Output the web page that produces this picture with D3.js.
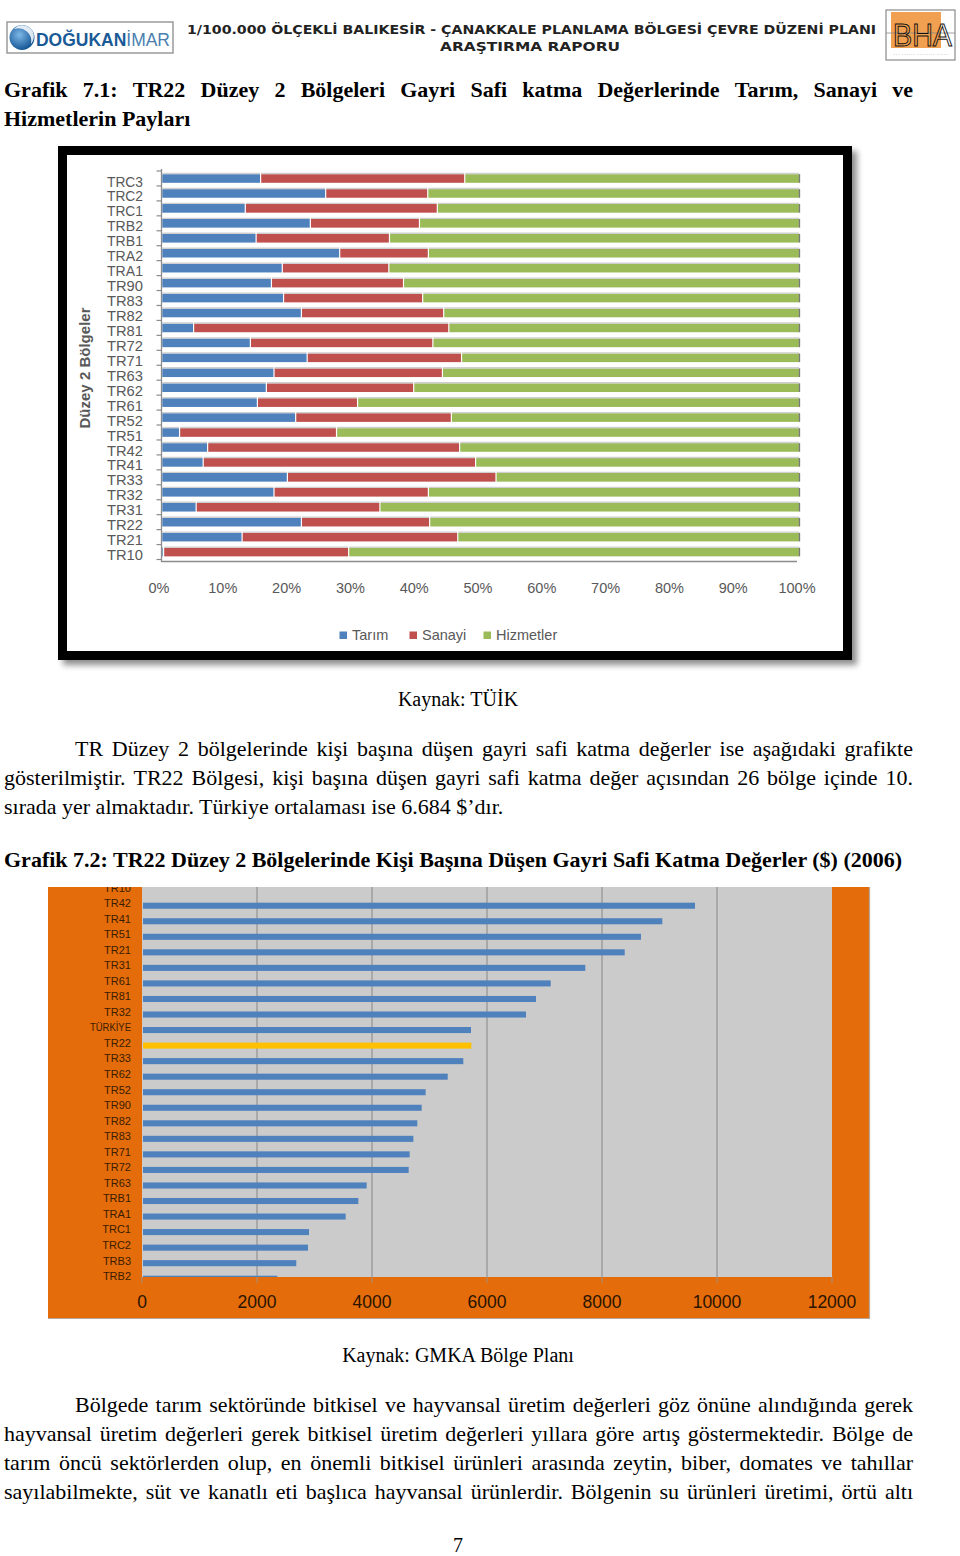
<!DOCTYPE html>
<html><head><meta charset="utf-8">
<script src="https://cdnjs.cloudflare.com/ajax/libs/d3/7.8.5/d3.min.js"></script>
<style>
html,body{margin:0;padding:0;background:#fff;}
svg{display:block;}
</style></head>
<body>
<svg id="page" width="960" height="1556"></svg>
<script>
// ---------- Chart 1 data (shares, %) ----------
const cats1 = ["TRC3","TRC2","TRC1","TRB2","TRB1","TRA2","TRA1","TR90","TR83","TR82","TR81","TR72","TR71","TR63","TR62","TR61","TR52","TR51","TR42","TR41","TR33","TR32","TR31","TR22","TR21","TR10"];
const tarim     = [15.5,25.7,13.1,23.3,14.8,27.9,18.9,17.2,19.1,21.9, 5.0,13.9,22.8,17.6,16.4,15.0,21.0, 2.8, 7.2, 6.5,19.7,17.6, 5.4,21.9,12.6, 0.3];
const sanayi    = [32.0,16.0,30.1,17.1,20.9,13.9,16.7,20.7,21.8,22.3,40.0,28.6,24.2,26.4,23.1,15.7,24.4,24.6,39.5,42.7,32.7,24.2,28.8,20.1,33.8,29.0];
const hizmetler = [52.5,58.3,56.8,59.6,64.3,58.2,64.4,62.1,59.1,55.8,55.0,57.5,53.0,56.0,60.5,69.3,54.6,72.6,53.3,50.8,47.6,58.2,65.8,58.0,53.6,70.7];
const seriesNames1 = ["Tarım","Sanayi","Hizmetler"];
const pctTicks = [0,10,20,30,40,50,60,70,80,90,100];

// ---------- Chart 2 data (GVA per capita, $, 2006) ----------
const cats2 = ["TR10","TR42","TR41","TR51","TR21","TR31","TR61","TR81","TR32","TÜRKİYE","TR22","TR33","TR62","TR52","TR90","TR82","TR83","TR71","TR72","TR63","TRB1","TRA1","TRC1","TRC2","TRB3","TRB2"];
// TR10 bar is cut off (not visible) in the source image
const gva = [null,9617,9049,8678,8395,7710,7108,6852,6678,5722,5727,5588,5317,4933,4864,4788,4719,4655,4638,3907,3762,3542,2904,2887,2683,2353];
const gvaTicks = [0,2000,4000,6000,8000,10000,12000];
const highlight2 = "TR22";

// ---------- Text ----------
const headerLine1 = "1/100.000 ÖLÇEKLİ BALIKESİR - ÇANAKKALE PLANLAMA BÖLGESİ ÇEVRE DÜZENİ PLANI";
const headerLine2 = "ARAŞTIRMA RAPORU";
const title1a = "Grafik 7.1: TR22 Düzey 2 Bölgeleri Gayri Safi katma Değerlerinde Tarım, Sanayi ve";
const title1b = "Hizmetlerin Payları";
const source1 = "Kaynak: TÜİK";
const para1 = ["TR Düzey 2 bölgelerinde kişi başına düşen gayri safi katma değerler ise aşağıdaki grafikte",
  "gösterilmiştir. TR22 Bölgesi, kişi başına düşen gayri safi katma değer açısından 26 bölge içinde 10.",
  "sırada yer almaktadır. Türkiye ortalaması ise 6.684 $’dır."];
const title2 = "Grafik 7.2: TR22 Düzey 2 Bölgelerinde Kişi Başına Düşen Gayri Safi Katma Değerler ($) (2006)";
const source2 = "Kaynak: GMKA Bölge Planı";
const para2 = ["Bölgede tarım sektöründe bitkisel ve hayvansal üretim değerleri göz önüne alındığında gerek",
  "hayvansal üretim değerleri gerek bitkisel üretim değerleri yıllara göre artış göstermektedir. Bölge de",
  "tarım öncü sektörlerden olup, en önemli bitkisel ürünleri arasında zeytin, biber, domates ve tahıllar",
  "sayılabilmekte, süt ve kanatlı eti başlıca hayvansal ürünlerdir. Bölgenin su ürünleri üretimi, örtü altı"];
const pageNo = "7";

const svg = d3.select("#page");
const SERIF = "'Liberation Serif','Times New Roman',serif";
const SANS = "'Liberation Sans',Arial,sans-serif";
const FS = 22;

const defs = svg.append("defs");
const sh = defs.append("filter").attr("id","shadow").attr("x","-5%").attr("y","-5%").attr("width","115%").attr("height","115%");
sh.append("feGaussianBlur").attr("in","SourceAlpha").attr("stdDeviation",3);
sh.append("feOffset").attr("dx",5).attr("dy",5).attr("result","ob");
sh.append("feComponentTransfer").append("feFuncA").attr("type","linear").attr("slope",0.45);
const mg = sh.append("feMerge"); mg.append("feMergeNode"); mg.append("feMergeNode").attr("in","SourceGraphic");
const lg = defs.append("radialGradient").attr("id","logoGrad").attr("cx","40%").attr("cy","40%").attr("r","65%");
lg.append("stop").attr("offset","0%").attr("stop-color","#7fb8e8");
lg.append("stop").attr("offset","100%").attr("stop-color","#0d4f8f");

function justify(sel, str, x0, x1, y, attrs){
  const words = str.split(" ");
  const g = sel.append("g");
  const nodes = words.map(w => {
    const t = g.append("text").attr("y", y).text(w);
    for (const k in attrs) t.attr(k, attrs[k]);
    return t;
  });
  const widths = nodes.map(n => n.node().getComputedTextLength());
  const gap = (x1 - x0 - d3.sum(widths)) / (words.length - 1);
  let x = x0;
  nodes.forEach((n,i) => { n.attr("x", x); x += widths[i] + gap; });
}
function plain(sel, str, x, y, attrs){
  const t = sel.append("text").attr("x", x).attr("y", y).text(str);
  for (const k in attrs) t.attr(k, attrs[k]);
  return t;
}
const bodyA = {"font-family":SERIF,"font-size":FS,"fill":"#000"};
const boldA = {"font-family":SERIF,"font-size":FS,"font-weight":"bold","fill":"#000"};
const srcA = {"font-family":SERIF,"font-size":20,"fill":"#000","text-anchor":"middle"};

// ---------- Header ----------
const hdr = svg.append("g");
hdr.append("rect").attr("x",7).attr("y",22).attr("width",166).attr("height",31).attr("fill","#fff").attr("stroke","#9a9a9a").attr("stroke-width",1.5);
hdr.append("circle").attr("cx",22).attr("cy",37.5).attr("r",12.5).attr("fill","url(#logoGrad)");
hdr.append("path").attr("d","M14,29 A11,11 0 0 1 31,44 A13,13 0 0 0 14,29 Z").attr("fill","#fff").attr("opacity",0.85);
const logoT = hdr.append("text").attr("x",36).attr("y",46).attr("font-family",SANS).attr("font-size",18)
  .attr("textLength",134).attr("lengthAdjust","spacingAndGlyphs");
logoT.append("tspan").attr("font-weight","bold").attr("fill","#1a5a96").text("DOĞUKAN");
logoT.append("tspan").attr("font-weight","normal").attr("fill","#4a7fb0").text("İMAR");
plain(hdr,headerLine1,187,34,{"font-family":"'DejaVu Sans',sans-serif","font-size":11.5,"font-weight":"bold","fill":"#222","textLength":689,"lengthAdjust":"spacingAndGlyphs"});
plain(hdr,headerLine2,440,51,{"font-family":"'DejaVu Sans',sans-serif","font-size":11.5,"font-weight":"bold","fill":"#222","textLength":180,"lengthAdjust":"spacingAndGlyphs"});
hdr.append("rect").attr("x",886).attr("y",10).attr("width",69).attr("height",50).attr("fill","#fff").attr("stroke","#8a8a8a").attr("stroke-width",1.2);
hdr.append("rect").attr("x",891).attr("y",12).attr("width",50).attr("height",36).attr("fill","#f0a050");
hdr.append("line").attr("x1",886).attr("x2",955).attr("y1",33).attr("y2",33).attr("stroke","#8a8a8a").attr("stroke-width",0.8);
plain(hdr,"BHA",893,46,{"font-family":SANS,"font-size":32,"font-weight":"normal","fill":"none","stroke":"#111","stroke-width":1,"textLength":59,"lengthAdjust":"spacingAndGlyphs"});
plain(hdr,"··· ······ ········ ·····",893,56,{"font-family":SANS,"font-size":4,"fill":"#555","textLength":55,"lengthAdjust":"spacingAndGlyphs"});

// ---------- Title 1 ----------
justify(svg, title1a, 4, 913, 96.5, boldA);
plain(svg, title1b, 4, 125.5, boldA);

// ---------- Chart 1 ----------
const c1 = svg.append("g");
c1.append("rect").attr("x",62.5).attr("y",150.5).attr("width",785).attr("height",505).attr("fill","#fff").attr("stroke","#000").attr("stroke-width",9).attr("filter","url(#shadow)");
const x1 = d3.scaleLinear().domain([0,100]).range([161.5,799.5]);
const y1 = d3.scaleBand().domain(cats1).range([171,559.5]).paddingInner(0.42).paddingOuter(0.21);
const colors1 = {"Tarım":"#4F81BD","Sanayi":"#C0504D","Hizmetler":"#9BBB59"};
const rows1 = cats1.map((c,i)=>({cat:c, Tarım:tarim[i], Sanayi:sanayi[i], Hizmetler:hizmetler[i]}));
const stack1 = d3.stack().keys(seriesNames1)(rows1);
// axes
c1.append("line").attr("x1",x1(0)).attr("x2",x1(0)).attr("y1",169).attr("y2",562).attr("stroke","#8c8c8c").attr("stroke-width",1.3);
c1.append("line").attr("x1",x1(0)).attr("x2",797).attr("y1",561.5).attr("y2",561.5).attr("stroke","#8c8c8c").attr("stroke-width",1.3);
const bounds = cats1.map(c=>y1(c)-y1.step()*y1.paddingInner()/2).concat([y1(cats1[cats1.length-1])+y1.bandwidth()+y1.step()*y1.paddingInner()/2]);
c1.selectAll("line.tk").data(bounds).join("line").attr("class","tk")
  .attr("x1",x1(0)-5).attr("x2",x1(0)).attr("y1",d=>d).attr("y2",d=>d).attr("stroke","#8c8c8c").attr("stroke-width",1.2);
const layers = c1.selectAll("g.layer").data(stack1).join("g").attr("class","layer").attr("fill",d=>colors1[d.key]);
layers.selectAll("rect").data(d=>d).join("rect")
  .attr("x",d=>x1(d[0])+0.8).attr("width",d=>Math.max(0,x1(d[1])-x1(d[0])-1.2))
  .attr("y",d=>y1(d.data.cat)).attr("height",y1.bandwidth());
layers.selectAll("line.hl").data(d=>d).join("line").attr("class","hl")
  .attr("x1",d=>x1(d[0])+0.8).attr("x2",d=>x1(d[1])-0.4)
  .attr("y1",d=>y1(d.data.cat)-0.6).attr("y2",d=>y1(d.data.cat)-0.6)
  .attr("stroke","#cfcfcf").attr("stroke-width",1.4);
c1.selectAll("line.endcap").data(cats1).join("line").attr("class","endcap")
  .attr("x1",x1(100)).attr("x2",x1(100)).attr("y1",c=>y1(c)).attr("y2",c=>y1(c)+y1.bandwidth())
  .attr("stroke","#7a7a7a").attr("stroke-width",1.3);
c1.selectAll("text.cat").data(cats1).join("text").attr("class","cat")
  .attr("x",143).attr("y",c=>y1(c)+y1.bandwidth()/2+3).attr("dy","0.35em").attr("text-anchor","end")
  .attr("font-family",SANS).attr("font-size",14.5).attr("fill","#595959")
  .attr("textLength",36).attr("lengthAdjust","spacingAndGlyphs").text(c=>c);
c1.selectAll("text.pt").data(pctTicks).join("text").attr("class","pt")
  .attr("x",d=>x1(d)-2.5).attr("y",593).attr("text-anchor","middle")
  .attr("font-family",SANS).attr("font-size",14.5).attr("fill","#595959").text(d=>d+"%");
c1.append("text").attr("transform","translate(90,368) rotate(-90)").attr("text-anchor","middle")
  .attr("font-family",SANS).attr("font-size",15).attr("font-weight","bold").attr("fill","#595959")
  .attr("textLength",121).attr("lengthAdjust","spacingAndGlyphs").text("Düzey 2 Bölgeler");
// legend
const legX = [343,413,487];
const leg = c1.selectAll("g.leg").data(seriesNames1).join("g").attr("class","leg")
  .attr("transform",(d,i)=>`translate(${legX[i]},635)`);
leg.append("rect").attr("x",-3.5).attr("y",-3.5).attr("width",7.5).attr("height",7.5).attr("fill",d=>colors1[d]);
leg.append("text").attr("x",9).attr("dy","0.35em").attr("font-family",SANS).attr("font-size",14.5).attr("fill","#595959").text(d=>d);

// ---------- Source 1 + paragraph ----------
plain(svg, source1, 458, 706, srcA);
justify(svg, para1[0], 75, 913, 755.5, bodyA);
justify(svg, para1[1], 4, 913, 784.5, bodyA);
plain(svg, para1[2], 4, 813.5, bodyA);
plain(svg, title2, 4, 866.5, boldA);

// ---------- Chart 2 ----------
const c2 = svg.append("g");
defs.append("clipPath").attr("id","c2clip").append("rect").attr("x",48).attr("y",887).attr("width",822).attr("height",432);
defs.append("clipPath").attr("id","plotclip").append("rect").attr("x",142).attr("y",887).attr("width",690).attr("height",390);
c2.append("rect").attr("x",48).attr("y",887).attr("width",821).attr("height",431).attr("fill","#E46C0A");
c2.append("line").attr("x1",869.5).attr("x2",869.5).attr("y1",887).attr("y2",1319).attr("stroke","#b7a79a").attr("stroke-width",1.2);
c2.append("line").attr("x1",48).attr("x2",870).attr("y1",1318.5).attr("y2",1318.5).attr("stroke","#b7a79a").attr("stroke-width",1.2);
const x2 = d3.scaleLinear().domain([0,12000]).range([142,832]);
const y2 = d3.scaleBand().domain(cats2).range([882.4,1286.5]).paddingInner(0.61).paddingOuter(0.305);
const gc = c2.append("g").attr("clip-path","url(#c2clip)");
gc.append("rect").attr("x",x2(0)).attr("y",887).attr("width",x2(12000)-x2(0)).attr("height",390).attr("fill","#CBCBCB");
gc.selectAll("line.grid").data(gvaTicks.filter(d=>d>0 && d<12000)).join("line").attr("class","grid")
  .attr("x1",d=>x2(d)).attr("x2",d=>x2(d)).attr("y1",887).attr("y2",1277).attr("stroke","#9a9a9a").attr("stroke-width",1.4);
gc.selectAll("line.t2").data(gvaTicks).join("line").attr("class","t2")
  .attr("x1",d=>x2(d)).attr("x2",d=>x2(d)).attr("y1",1277).attr("y2",1283).attr("stroke","#b08a6a").attr("stroke-width",1.2);
const rows2 = cats2.map((c,i)=>({cat:c, v:gva[i]})).filter(d=>d.v!=null);
gc.append("g").attr("clip-path","url(#plotclip)").selectAll("rect").data(rows2).join("rect")
  .attr("x",x2(0)+1).attr("y",d=>y2(d.cat)).attr("height",y2.bandwidth())
  .attr("width",d=>x2(d.v)-x2(0)-1).attr("fill",d=>d.cat===highlight2?"#FFC000":"#4F81BD");
gc.selectAll("text.c2").data(cats2).join("text").attr("class","c2")
  .attr("x",131).attr("y",c=>y2(c)+y2.bandwidth()/2-2.5).attr("dy","0.35em").attr("text-anchor","end")
  .attr("font-family",SANS).attr("font-size",11).attr("fill","#3a1c00")
  .attr("textLength",c=>c==="TÜRKİYE"?41:null).attr("lengthAdjust","spacingAndGlyphs").text(c=>c);
gc.selectAll("text.v2").data(gvaTicks).join("text").attr("class","v2")
  .attr("x",d=>x2(d)).attr("y",1307.5).attr("text-anchor","middle")
  .attr("font-family",SANS).attr("font-size",17.5).attr("fill","#2a1400").text(d=>d);

// ---------- Source 2 + paragraph ----------
plain(svg, source2, 458, 1362, srcA);
justify(svg, para2[0], 75, 913, 1411.5, bodyA);
justify(svg, para2[1], 4, 913, 1440.5, bodyA);
justify(svg, para2[2], 4, 913, 1469.5, bodyA);
justify(svg, para2[3], 4, 913, 1498.5, bodyA);
plain(svg, pageNo, 458, 1552, srcA);
</script>
</body></html>
